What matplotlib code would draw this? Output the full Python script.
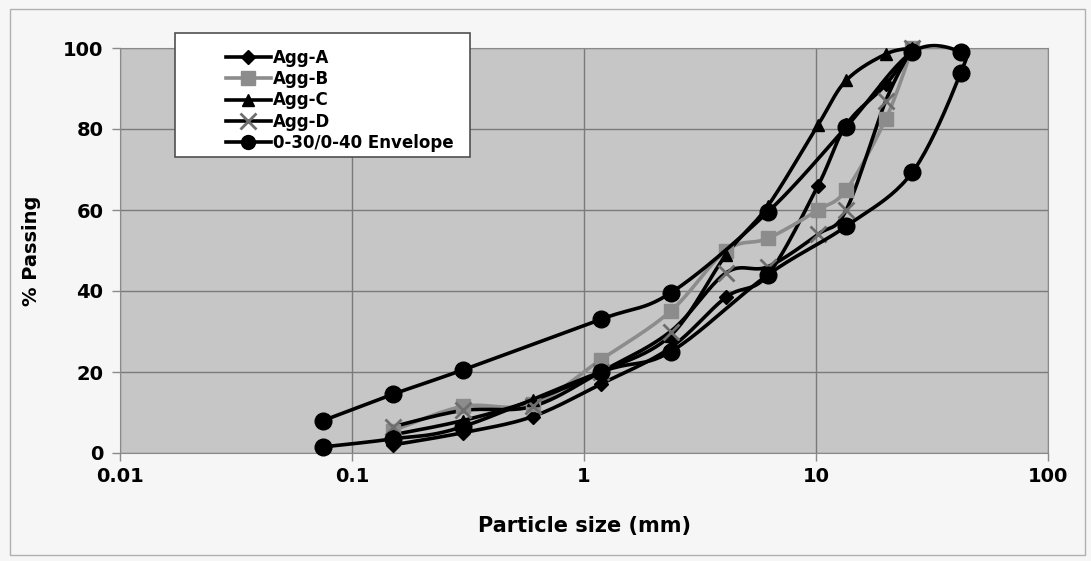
import matplotlib
matplotlib.use('Agg')
import matplotlib.pyplot as plt
from matplotlib.patches import Rectangle
from matplotlib.lines import Line2D
import numpy as np

# sieve sizes (mm) and % passing
sizes_agg = [0.15, 0.3, 0.6, 1.18, 2.36, 4.1, 6.2, 10.2, 13.5, 20, 26]
agg_a = [2, 5, 9, 17, 26, 38.5, 44, 66, 81, 91, 100]
agg_b = [5.5, 11.5, 12, 23, 35, 50, 53, 60, 65, 82.5, 100]
agg_c = [4.5, 8, 13, 20, 29, 49, 61, 81, 92, 98.5, 100]
agg_d = [6.5, 10.5, 11.5, 20, 30, 44.5, 46, 54, 60, 87, 100]

# envelope drawn as one closed loop: fine limit out, coarse limit back
env_sizes = [0.075, 0.15, 0.3, 1.18, 2.36, 6.2, 13.5, 26, 42,
             42, 26, 13.5, 6.2, 2.36, 1.18, 0.3, 0.15, 0.075]
env_pass = [8, 14.5, 20.5, 33, 39.5, 59.5, 80.5, 99, 99,
            93.8, 69.3, 56, 44, 25, 20, 6.5, 3.5, 1.5]

x_ticks = [0.01, 0.1, 1, 10, 100]
x_ticklabels = ['0.01', '0.1', '1', '10', '100']
y_ticks = [0, 20, 40, 60, 80, 100]

XSCALE = 57.4  # pixels per decade / pixels per % passing


def smooth(xs, ys, n=24):
    # excel-like smoothed line (bezier through points) in log-x space
    P = np.column_stack([np.log10(xs) * XSCALE, np.asarray(ys, float)])
    out = []
    for i in range(len(P) - 1):
        p0 = P[i - 1] if i > 0 else P[i]
        p1 = P[i]
        p2 = P[i + 1]
        p3 = P[i + 2] if i + 2 < len(P) else P[i + 1]
        c1 = p1 + (p2 - p0) / 6.0
        c2 = p2 - (p3 - p1) / 6.0
        t = np.linspace(0, 1, n)[:, None]
        seg = (1 - t)**3 * p1 + 3 * (1 - t)**2 * t * c1 + 3 * (1 - t) * t**2 * c2 + t**3 * p2
        out.append(seg if i == 0 else seg[1:])
    S = np.vstack(out)
    return 10 ** (S[:, 0] / XSCALE), S[:, 1]


plt.rcParams['font.family'] = ['DejaVu Sans']
plt.rcParams['font.weight'] = 'bold'

fig = plt.figure(figsize=(10.91, 5.61), dpi=100)
fig.patch.set_facecolor('#f6f6f6')
fig.patches.append(Rectangle((10 / 1091, 6 / 561), 1075 / 1091, 546 / 561,
                             transform=fig.transFigure, fill=False,
                             edgecolor='#b0b0b0', lw=1.0))

ax = fig.add_axes([120 / 1091, 1 - 453 / 561, 928 / 1091, 405 / 561])
ax.set_facecolor('#c6c6c6')
ax.set_xscale('log')
ax.set_xlim(0.01, 100)
ax.set_ylim(0, 100)
ax.set_xticks(x_ticks)
ax.set_xticklabels(x_ticklabels)
ax.set_yticks(y_ticks)
ax.minorticks_off()
ax.grid(True, color='#7a7a7a', lw=1.0)
ax.set_axisbelow(True)
for s in ax.spines.values():
    s.set_color('#8a8a8a')
ax.tick_params(axis='both', colors='#8a8a8a', labelcolor='black',
               labelsize=14, length=6, width=1)
ax.tick_params(axis='x', pad=4)
ax.tick_params(axis='y', pad=6)
for lab in ax.get_xticklabels() + ax.get_yticklabels():
    lab.set_fontweight('bold')

ax.set_xlabel('Particle size (mm)', fontsize=15, fontweight='bold', labelpad=22)
ax.set_ylabel('% Passing', fontsize=14, fontweight='bold', labelpad=16)

series = [
    (agg_a, 'Agg-A', 'black', 'D', 'black', 7),
    (agg_b, 'Agg-B', '#8c8c8c', 's', '#8c8c8c', 10),
    (agg_c, 'Agg-C', 'black', '^', 'black', 9),
    (agg_d, 'Agg-D', 'black', 'x', '#6e6e6e', 11),
]
handles = []
for vals, name, lc, mk, mc, ms in series:
    sx, sy = smooth(sizes_agg, vals)
    ax.plot(sx, sy, color=lc, lw=2.6, zorder=3, clip_on=False)
    ax.plot(sizes_agg, vals, ls='none', marker=mk, ms=ms, color=mc,
            mec=mc, mew=2 if mk == 'x' else 1, zorder=4, clip_on=False)
    handles.append(Line2D([], [], color=lc, lw=2.6, marker=mk, ms=ms,
                          mfc=mc, mec=mc, mew=2 if mk == 'x' else 1))

ex, ey = smooth(env_sizes, env_pass)
ax.plot(ex, ey, color='black', lw=2.6, zorder=5, clip_on=False)
ax.plot(env_sizes, env_pass, ls='none', marker='o', ms=12, color='black',
        zorder=6, clip_on=False)
handles.append(Line2D([], [], color='black', lw=2.6, marker='o', ms=10))

# legend box
fig.patches.append(Rectangle((175 / 1091, 1 - 157 / 561), 295 / 1091, 124 / 561,
                             transform=fig.transFigure, facecolor='white',
                             edgecolor='#505050', lw=1.2, zorder=10))
leg = fig.legend(handles, ['Agg-A', 'Agg-B', 'Agg-C', 'Agg-D', '0-30/0-40 Envelope'],
                 loc='upper left', bbox_to_anchor=(214 / 1091, 1 - 37 / 561),
                 frameon=False, fontsize=12, handlelength=2.7,
                 handletextpad=0.15, labelspacing=0.2, borderpad=0.2)
leg.set_zorder(11)
for t in leg.get_texts():
    t.set_fontweight('bold')

fig.savefig('out.png', dpi=100, facecolor=fig.get_facecolor())
